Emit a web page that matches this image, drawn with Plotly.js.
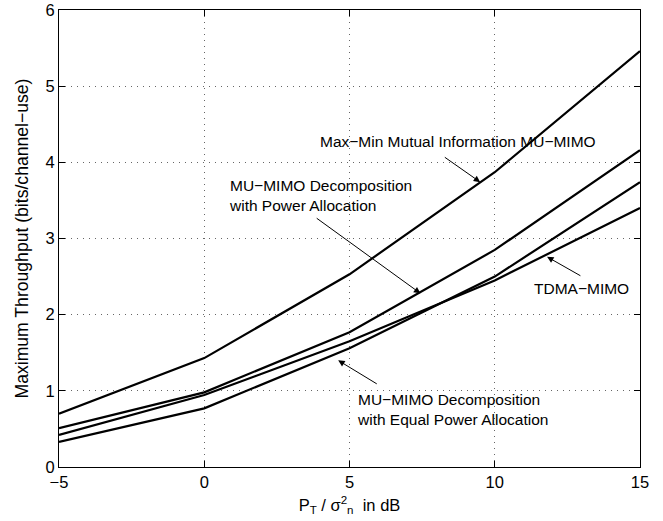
<!DOCTYPE html>
<html><head><meta charset="utf-8">
<script src="https://cdn.plot.ly/plotly-3.0.1.min.js"></script>
<style>html,body{margin:0;padding:0;background:#fff}#plot{width:663px;height:521px}</style>
</head><body><div id="plot"></div>
<script>
const snr = [-5, 0, 5, 10, 15];
const maxMin = [0.70, 1.43, 2.53, 3.87, 5.46];
const decompPower = [0.51, 0.98, 1.77, 2.85, 4.16];
const tdma = [0.42, 0.945, 1.65, 2.45, 3.40];
const decompEqual = [0.33, 0.77, 1.56, 2.50, 3.74];

const font = "Liberation Sans, Arial, Helvetica, sans-serif";
const mk = (y) => ({x: snr, y: y, type: 'scatter', mode: 'lines', line: {color: '#000', width: 2.2}, showlegend: false, hoverinfo: 'skip'});
const data = [mk(maxMin), mk(decompPower), mk(tdma), mk(decompEqual)];

const arrow = (hx, hy, tx, ty) => ({x: hx, y: hy, ax: tx, ay: ty, xref: 'x', yref: 'y', axref: 'x', ayref: 'y', text: '', showarrow: true, arrowhead: 2, arrowsize: 1.3, arrowwidth: 1, arrowcolor: '#000'});
const label = (x, y, t, xa) => ({x: x, y: y, xref: 'x', yref: 'y', text: t, showarrow: false, xanchor: xa, yanchor: 'middle', align: 'left', font: {family: font, size: 15.5, color: '#000'}});

const gridStyle = {showgrid: true, gridcolor: '#666', griddash: '1px,5px', gridwidth: 1};
const layout = {
  width: 663, height: 521,
  margin: {l: 59, r: 23, t: 10, b: 54},
  paper_bgcolor: '#fff', plot_bgcolor: '#fff',
  font: {family: font, color: '#000'},
  xaxis: Object.assign({range: [-5, 15], tickvals: [-5, 0, 5, 10, 15], ticks: 'inside', ticklen: 6, tickcolor: '#000', showline: true, linecolor: '#000', linewidth: 1, mirror: 'ticks', zeroline: false, tickfont: {size: 16.5, family: font},
    title: {text: 'P<sub>T</sub> / σ<sup>2</sup><sub>n</sub>  in dB', font: {size: 16.5, family: font}, standoff: 9}}, gridStyle),
  yaxis: Object.assign({range: [0, 6], tickvals: [0, 1, 2, 3, 4, 5, 6], ticks: 'inside', ticklen: 6, tickcolor: '#000', showline: true, linecolor: '#000', linewidth: 1, mirror: 'ticks', zeroline: false, tickfont: {size: 16.5, family: font},
    title: {text: 'Maximum Throughput (bits/channel−use)', font: {size: 17.6, family: font}, standoff: 12}}, gridStyle),
  annotations: [
    label(8.74, 4.28, 'Max−Min Mutual Information MU−MIMO', 'center'),
    arrow(9.5, 3.74, 8.23, 4.08),
    label(0.79, 3.56, 'MU−MIMO Decomposition<br>with Power Allocation', 'left'),
    arrow(7.44, 2.28, 3.82, 3.28),
    label(12.98, 2.34, 'TDMA−MIMO', 'center'),
    arrow(11.8, 2.76, 13.0, 2.5),
    label(5.2, 0.75, 'MU−MIMO Decomposition<br>with Equal Power Allocation', 'left'),
    arrow(4.61, 1.40, 5.99, 1.08)
  ]
};
Plotly.newPlot('plot', data, layout, {staticPlot: true, displayModeBar: false});
</script></body></html>
